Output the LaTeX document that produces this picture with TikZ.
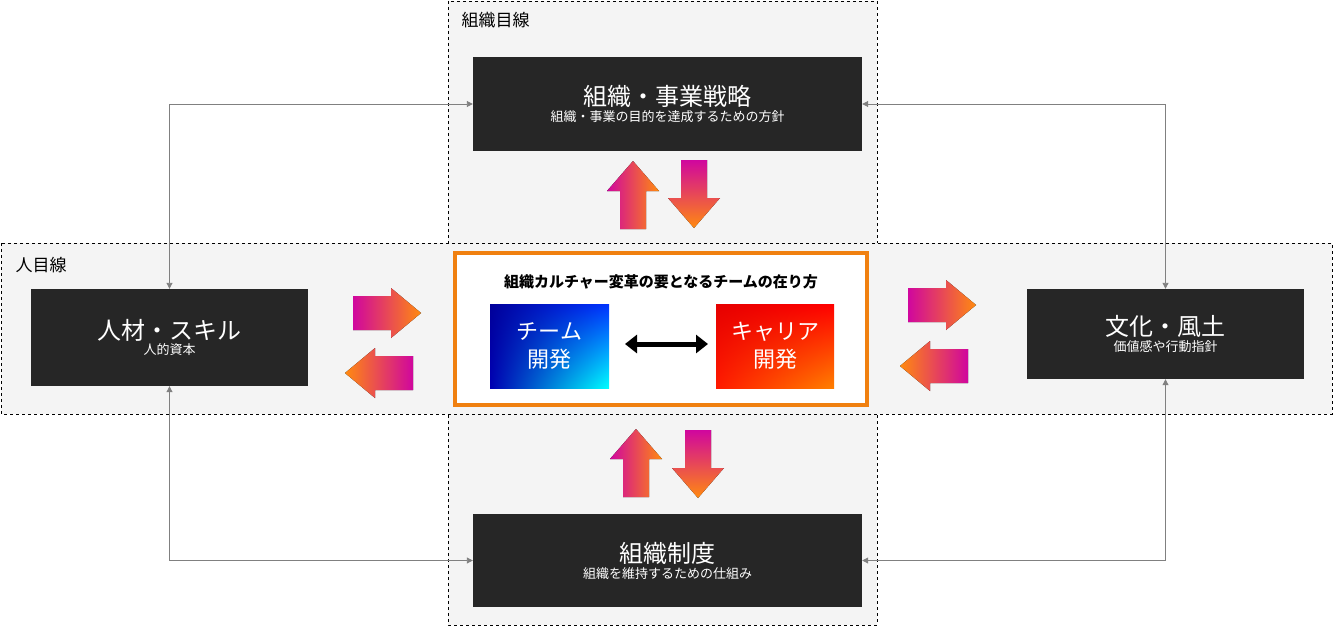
\documentclass[tikz,border=0pt]{standalone}
\usepackage{fontspec}
\setmainfont{Noto Sans CJK JP}
\usetikzlibrary{arrows.meta,shadings}
\definecolor{boxdark}{HTML}{262626}
\definecolor{zone}{HTML}{F4F4F4}
\definecolor{mag}{HTML}{D0069E}
\definecolor{org}{HTML}{FF8A10}
\definecolor{frameorg}{HTML}{F08010}
\newcommand\rarrow{(0,-17) -- (38,-17) -- (38,-25) -- (68,0) -- (38,25) -- (38,17) -- (0,17) -- cycle}
\newcommand\larrow{(68,-17) -- (30,-17) -- (30,-25) -- (0,0) -- (30,25) -- (30,17) -- (68,17) -- cycle}
\newcommand\uarrow{(-13,0) -- (-13,-38) -- (-26,-38) -- (0,-68) -- (26,-38) -- (13,-38) -- (13,0) -- cycle}
\newcommand\darrow{(-13,0) -- (-13,38) -- (-26,38) -- (0,68) -- (26,38) -- (13,38) -- (13,0) -- cycle}
\tikzset{
  zonebox/.style={draw, dashed, fill=zone, line width=0.9pt},
  darkbox/.style={fill=boxdark, text=white, align=center, inner sep=0pt},
  link/.style={draw=gray, line width=0.9pt, {Triangle[length=6pt,width=6pt]}-{Triangle[length=6pt,width=6pt]}},
  title/.style={font=\fontsize{24}{28}\selectfont},
  sub/.style={font=\fontsize{13}{16}\selectfont}
}
\begin{document}
\begin{tikzpicture}[x=1pt,y=-1pt]
\useasboundingbox (0,0) rectangle (1333,626);
% zones
\draw[zonebox] (448,1) rectangle (877,625);
\draw[zonebox] (1,243) rectangle (1332,414);
\fill[zone] (448.5,243.5) rectangle (876.5,413.5);
\node[anchor=west, font=\fontsize{17}{20}\selectfont] at (458,20) {組織目線};
\node[anchor=west, font=\fontsize{17}{20}\selectfont] at (12,265) {人目線};
% dark boxes
\node[darkbox, minimum width=389pt, minimum height=94pt] (strat) at (667.5,104)
  {{\fontsize{24}{28}\selectfont 組織・事業戦略}\\[2pt]{\fontsize{13}{16}\selectfont 組織・事業の目的を達成するための方針}};
\node[darkbox, minimum width=277pt, minimum height=97pt] (skill) at (169.5,337.5)
  {{\fontsize{24}{28}\selectfont 人材・スキル}\\[2pt]{\fontsize{13}{16}\selectfont 人的資本}};
\node[darkbox, minimum width=277pt, minimum height=90pt] (cult) at (1165.5,334)
  {{\fontsize{24}{28}\selectfont 文化・風土}\\[2pt]{\fontsize{13}{16}\selectfont 価値感や行動指針}};
\node[darkbox, minimum width=389pt, minimum height=93pt] (sys) at (667.5,560.5)
  {{\fontsize{24}{28}\selectfont 組織制度}\\[2pt]{\fontsize{13}{16}\selectfont 組織を維持するための仕組み}};
% center
\draw[frameorg, fill=white, line width=3.5pt] (455,253) rectangle (867,405);
\node[font=\fontsize{15}{18}\selectfont\bfseries] (head) at (661,282) {組織カルチャー変革の要となるチームの在り方};
\shade[upper left=blue!60!black, lower right=cyan, upper right=blue!80!cyan, lower left=blue!70!black] (490,304) rectangle (609,388);
\node[text=white, align=center, font=\fontsize{22}{28}\selectfont] (team) at (549.5,346) {チーム\\開発};
\shade[upper left=red!90!black, upper right=red, lower left=red!80!orange, lower right=orange] (716,304) rectangle (834,388);
\node[text=white, align=center, font=\fontsize{22}{28}\selectfont] (career) at (775,346) {キャリア\\開発};
\draw[line width=5pt, {Triangle[length=12pt,width=18pt]}-{Triangle[length=12pt,width=18pt]}] (625,344) -- (708,344);
% gradient arrows
\fill[shift={(633,229)}, left color=mag, right color=org] \uarrow;
\fill[shift={(694,160)}, top color=mag, bottom color=org] \darrow;
\fill[shift={(636,497)}, left color=mag, right color=org] \uarrow;
\fill[shift={(698,430)}, top color=mag, bottom color=org] \darrow;
\fill[shift={(353,313)}, left color=mag, right color=org] \rarrow;
\fill[shift={(345,373)}, left color=org, right color=mag] \larrow;
\fill[shift={(908,305)}, left color=mag, right color=org] \rarrow;
\fill[shift={(900,366)}, left color=org, right color=mag] \larrow;
% links
\draw[link] (strat.west) -| (skill.north);
\draw[link] (strat.east) -| (cult.north);
\draw[link] (skill.south) |- (sys.west);
\draw[link] (cult.south) |- (sys.east);
\end{tikzpicture}
\end{document}
